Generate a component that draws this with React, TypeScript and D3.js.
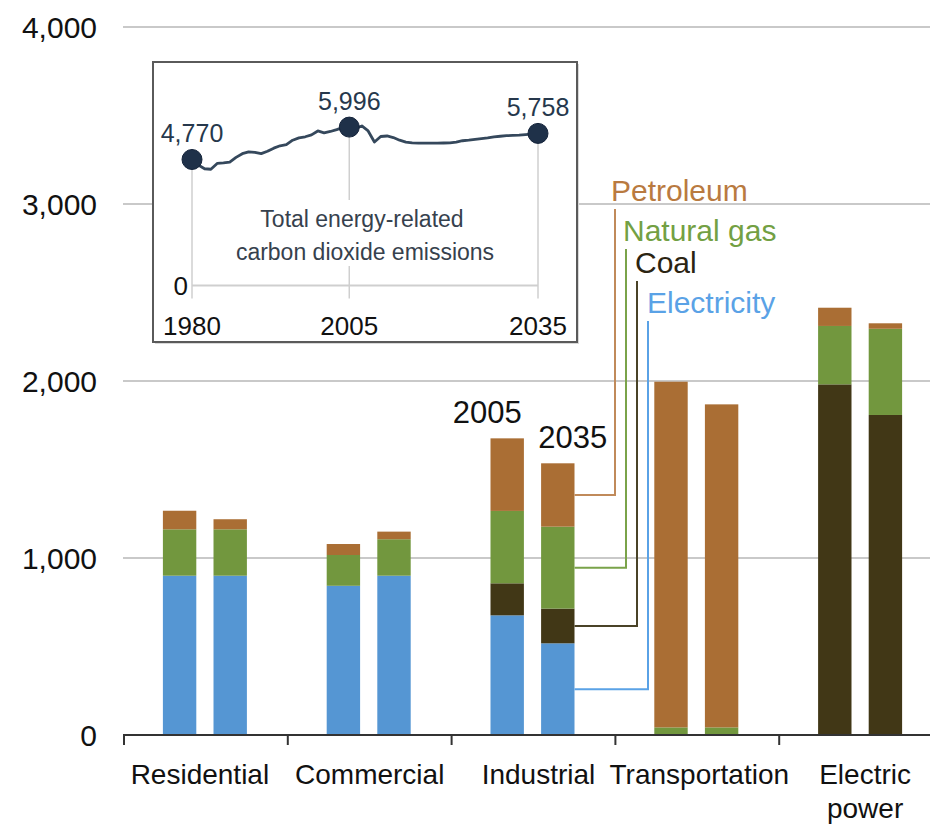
import React from "react";
import * as d3 from "d3";

// ---------- data ----------
const categories = ["Residential", "Commercial", "Industrial", "Transportation", "Electric power"];
const years = ["2005", "2035"];
const fuelKeys = ["Electricity", "Coal", "Natural gas", "Petroleum"];

const electricity2005 = [900, 843, 676, 0, 0];
const electricity2035 = [900, 900, 518, 0, 0];
const coal2005 = [0, 0, 181, 0, 1981];
const coal2035 = [0, 0, 196, 0, 1808];
const gas2005 = [262, 174, 409, 43, 330];
const gas2035 = [262, 206, 463, 43, 487];
const petroleum2005 = [105, 62, 410, 1953, 103];
const petroleum2035 = [57, 43, 358, 1825, 31];

const yTicks = [0, 1000, 2000, 3000, 4000];

const co2Years = [
  1980, 1981, 1982, 1983, 1984, 1985, 1986, 1987, 1988, 1989, 1990, 1991, 1992, 1993, 1994,
  1995, 1996, 1997, 1998, 1999, 2000, 2001, 2002, 2003, 2004, 2005, 2006, 2007, 2008, 2009,
  2010, 2011, 2012, 2013, 2014, 2015, 2016, 2017, 2018, 2019, 2020, 2021, 2022, 2023, 2024,
  2025, 2026, 2027, 2028, 2029, 2030, 2031, 2032, 2033, 2034, 2035,
];
const co2Values = [
  4770, 4560, 4420, 4400, 4620, 4640, 4670, 4850, 4990, 5060, 5040, 4990, 5080, 5200, 5290,
  5330, 5500, 5590, 5630, 5700, 5850, 5780, 5830, 5900, 5980, 5996, 5950, 6040, 5850, 5430,
  5640, 5660, 5600, 5500, 5430, 5400, 5390, 5390, 5390, 5390, 5395, 5400, 5430, 5480, 5500,
  5530, 5560, 5590, 5630, 5650, 5670, 5680, 5690, 5710, 5730, 5758,
];
const co2Highlights = [
  { year: 1980, value: 4770, label: "4,770" },
  { year: 2005, value: 5996, label: "5,996" },
  { year: 2035, value: 5758, label: "5,758" },
];

// ---------- styles ----------
const FONT = "'Liberation Sans', Arial, Helvetica, sans-serif";
const fillColors: Record<string, string> = {
  Electricity: "#5596d3",
  Coal: "#413716",
  "Natural gas": "#72973e",
  Petroleum: "#aa6e34",
};
const legendText: Record<string, string> = {
  Petroleum: "#b97a40",
  "Natural gas": "#73a043",
  Coal: "#2b2412",
  Electricity: "#5aa2e6",
};
const leaderColors: Record<string, string> = {
  Petroleum: "#c08a5a",
  "Natural gas": "#7aa34a",
  Coal: "#4a4328",
  Electricity: "#5aa2e6",
};
const labelShift: Record<string, number> = {
  Residential: -6,
  Commercial: 0,
  Industrial: 5,
  Transportation: 2,
  "Electric power": 4,
};

export default function App() {
  const W = 930;
  const H = 827;

  const y = d3.scaleLinear().domain([0, 4000]).range([735, 27]);
  const x0 = d3.scaleBand<string>().domain(categories).range([124, 943]);
  const x1 = d3.scaleBand<string>().domain(years).range([-43, 41]).paddingInner(0.34);

  const rows = categories.flatMap((c, i) =>
    years.map((yr) => ({
      category: c,
      year: yr,
      Electricity: yr === "2005" ? electricity2005[i] : electricity2035[i],
      Coal: yr === "2005" ? coal2005[i] : coal2035[i],
      "Natural gas": yr === "2005" ? gas2005[i] : gas2035[i],
      Petroleum: yr === "2005" ? petroleum2005[i] : petroleum2035[i],
    }))
  );
  const stacked = d3.stack<any>().keys(fuelKeys)(rows as any);

  const barX = (c: string, yr: string) => (x0(c) as number) + x0.bandwidth() / 2 + (x1(yr) as number);
  const bw = x1.bandwidth();

  // inset
  const ix = d3.scaleLinear().domain([1980, 2035]).range([192, 538]);
  const iy = d3.scaleLinear().domain([0, 6000]).range([285.5, 127]);
  const line = d3.line<number>().x((_, i) => ix(co2Years[i])).y((d) => iy(d));
  const inset = { x: 153, y: 62, w: 424, h: 280 };

  // leader lines from Industrial 2035 bar
  const indIdx = rows.findIndex((r) => r.category === "Industrial" && r.year === "2035");
  const legendOrder = ["Petroleum", "Natural gas", "Coal", "Electricity"];
  const legendBaselines = [201, 241, 273, 313];
  const barRight = barX("Industrial", "2035") + bw;

  const boundaries = [...categories.map((c) => x0(c) as number), (x0(categories[4]) as number) + x0.bandwidth()];

  return (
    <svg
      width={W}
      height={H}
      style={{ position: "absolute", left: 0, top: 0, background: "#fff", fontFamily: FONT }}
    >
      <rect x={0} y={0} width={W} height={H} fill="#fff" />
      {/* gridlines */}
      {yTicks.filter((t) => t > 0).map((t) => (
        <line key={t} x1={123} x2={W} y1={y(t)} y2={y(t)} stroke="#c9c9c9" strokeWidth={2} />
      ))}
      {/* y tick labels */}
      {yTicks.map((t) => (
        <text key={t} x={97} y={y(t)} dy="0.36em" textAnchor="end" fontSize={30} fill="#111">
          {d3.format(",")(t)}
        </text>
      ))}

      {/* bars */}
      {stacked.map((layer) => (
        <g key={layer.key} fill={fillColors[layer.key]}>
          {layer.map((seg: any, i: number) => {
            const r = rows[i];
            const h = y(seg[0]) - y(seg[1]);
            if (h <= 0) return null;
            return <rect key={i} x={barX(r.category, r.year)} y={y(seg[1])} width={bw} height={h} />;
          })}
        </g>
      ))}

      {/* x axis */}
      <line x1={123} x2={W} y1={y(0)} y2={y(0)} stroke="#333" strokeWidth={2} />
      {boundaries.map((b, i) => (
        <line key={i} x1={b} x2={b} y1={y(0)} y2={y(0) + 10} stroke="#333" strokeWidth={2} />
      ))}
      {categories.map((c) => {
        const cx = (x0(c) as number) + x0.bandwidth() / 2 + labelShift[c];
        const parts = c === "Electric power" ? ["Electric", "power"] : [c];
        return (
          <text key={c} x={cx} y={784} textAnchor="middle" fontSize={28} fill="#111">
            {parts.map((p, k) => (
              <tspan key={k} x={cx} dy={k === 0 ? 0 : 34}>
                {p}
              </tspan>
            ))}
          </text>
        );
      })}

      {/* year labels over industrial bars */}
      {years.map((yr) => {
        const r = rows.find((rr) => rr.category === "Industrial" && rr.year === yr)!;
        const total = fuelKeys.reduce((s, k) => s + (r as any)[k], 0);
        return (
          <text key={yr} x={barX("Industrial", yr) + bw / 2 + (yr === "2005" ? -20 : 15)} y={y(total) - 15} textAnchor="middle" fontSize={31} fill="#111">
            {yr}
          </text>
        );
      })}

      {/* leader lines + legend */}
      {legendOrder.map((k, i) => {
        const layer = stacked.find((l) => l.key === k)!;
        const seg = layer[indIdx];
        const midY = y((seg[0] + seg[1]) / 2);
        const lx = 615 + i * 11;
        const topY = legendBaselines[i] + 8;
        return (
          <g key={k}>
            <polyline
              points={`${barRight},${midY} ${lx},${midY} ${lx},${topY}`}
              fill="none"
              stroke={leaderColors[k]}
              strokeWidth={2}
            />
            <text x={611 + i * 12} y={legendBaselines[i]} fontSize={30} fill={legendText[k]}>
              {k}
            </text>
          </g>
        );
      })}

      {/* inset */}
      <rect x={inset.x + 2} y={inset.y + 2} width={inset.w} height={inset.h} fill="#d8d8d8" />
      <rect x={inset.x} y={inset.y} width={inset.w} height={inset.h} fill="#fff" stroke="#5a5a5a" strokeWidth={2} />
      <line x1={ix(1980)} x2={ix(2035)} y1={iy(0)} y2={iy(0)} stroke="#cfcfcf" strokeWidth={2} />
      {co2Highlights.map((h) => (
        <line key={h.year} x1={ix(h.year)} x2={ix(h.year)} y1={iy(h.value)} y2={iy(0) + 13} stroke="#cfcfcf" strokeWidth={1.5} />
      ))}
      <rect x={228} y={200} width={274} height={66} fill="#fff" />
      <text x={362} y={227} textAnchor="middle" fontSize={23} fill="#36414d">
        Total energy-related
      </text>
      <text x={365} y={260} textAnchor="middle" fontSize={23} fill="#36414d">
        carbon dioxide emissions
      </text>
      <text x={188} y={iy(0)} dy="0.36em" textAnchor="end" fontSize={26} fill="#111">
        0
      </text>
      <path d={line(co2Values) || ""} fill="none" stroke="#35485c" strokeWidth={2.8} strokeLinejoin="round" />
      {co2Highlights.map((h) => (
        <g key={h.year}>
          <circle cx={ix(h.year)} cy={iy(h.value)} r={10} fill="#1f3149" stroke="#14233a" strokeWidth={1} />
          <text x={ix(h.year)} y={iy(h.value) - 17} textAnchor="middle" fontSize={25} fill="#26384c">
            {h.label}
          </text>
          <text x={ix(h.year)} y={335} textAnchor="middle" fontSize={26} fill="#111">
            {h.year}
          </text>
        </g>
      ))}
    </svg>
  );
}
